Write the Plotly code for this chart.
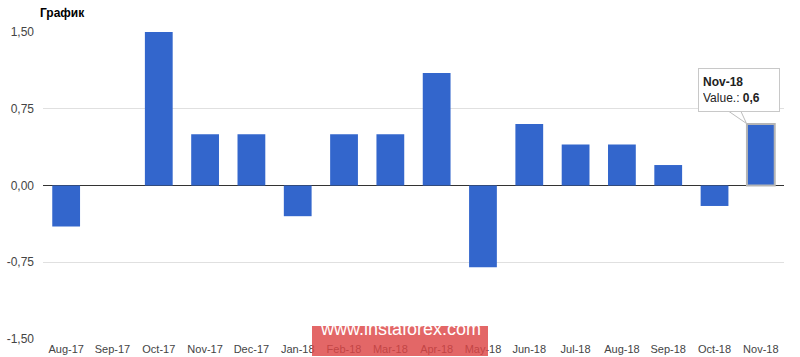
import plotly.graph_objects as go

categories = ["Aug-17", "Sep-17", "Oct-17", "Nov-17", "Dec-17", "Jan-18", "Feb-18", "Mar-18",
              "Apr-18", "May-18", "Jun-18", "Jul-18", "Aug-18", "Sep-18", "Oct-18", "Nov-18"]
values = [-0.4, 0.0, 1.5, 0.5, 0.5, -0.3, 0.5, 0.5, 1.1, -0.8, 0.6, 0.4, 0.4, 0.2, -0.2, 0.6]
y_ticks = [-1.5, -0.75, 0.0, 0.75, 1.5]
y_tick_labels = ["-1,50", "-0,75", "0,00", "0,75", "1,50"]

W, H = 800, 357
L, R, T, B = 43, 16, 32, 18
pw, ph = W - L - R, H - T - B

def px(x):
    return (x - L) / pw

def py(y):
    return (H - B - y) / ph

hl = len(values) - 1
line_w = [0] * len(values)
line_c = ["#3366cc"] * len(values)
line_w[hl] = 2
line_c[hl] = "#b5b5b5"

fig = go.Figure()
fig.add_trace(go.Bar(
    x=categories, y=values, width=0.6,
    marker=dict(color="#3366cc", line=dict(width=line_w, color=line_c)),
    hoverinfo="skip",
))

fig.update_layout(
    width=W, height=H,
    margin=dict(l=L, r=R, t=T, b=B, autoexpand=False),
    paper_bgcolor="white", plot_bgcolor="white",
    showlegend=False,
    font=dict(family="Liberation Sans, Arial, sans-serif", size=11, color="#444"),
    title=dict(text="<b>График</b>", x=40 / W, xanchor="left", y=1 - 13 / H, yanchor="middle",
               font=dict(size=12, color="#000")),
    xaxis=dict(type="category", showgrid=False, showline=False, ticks="", automargin=False,
               tickfont=dict(size=11, color="#444"), ticklabelstandoff=2,
               range=[-0.5, len(categories) - 0.5]),
    yaxis=dict(range=[-1.5, 1.5], tickvals=y_ticks, ticktext=y_tick_labels, showgrid=True, automargin=False,
               gridcolor="#e0e0e0", gridwidth=1, zeroline=True, zerolinecolor="#333", zerolinewidth=1,
               ticks="", ticklabelstandoff=8, tickfont=dict(size=12, color="#444")),
    bargap=0.4,
)

# tooltip tail
fig.add_shape(type="path", xref="paper", yref="paper",
              path=f"M {px(729)},{py(111.5)} L {px(746.5)},{py(123.5)} L {px(741)},{py(111.5)} Z",
              fillcolor="white", line=dict(color="#bdbdbd", width=1), layer="above")
# tooltip box
fig.add_annotation(xref="paper", yref="paper", x=px(698), y=py(68), xanchor="left", yanchor="top",
                   text=f"<b>{categories[hl]}</b><br>Value.: <b>{str(values[hl]).replace('.', ',')}</b>",
                   align="left", showarrow=False, bgcolor="white", bordercolor="#c8c8c8", borderwidth=1,
                   borderpad=4, width=72, height=34, font=dict(size=12, color="#222"))

# watermark
fig.add_shape(type="rect", xref="paper", yref="paper", x0=px(312), x1=px(488), y0=py(356), y1=py(326),
              fillcolor="rgba(221,70,70,0.82)", line=dict(width=0), layer="above")
fig.add_annotation(xref="paper", yref="paper", x=px(400), y=py(341), text="www.instaforex.com",
                   showarrow=False, font=dict(size=18, color="white", family="Liberation Sans, Arial, sans-serif"))

fig.write_html("out.html")
